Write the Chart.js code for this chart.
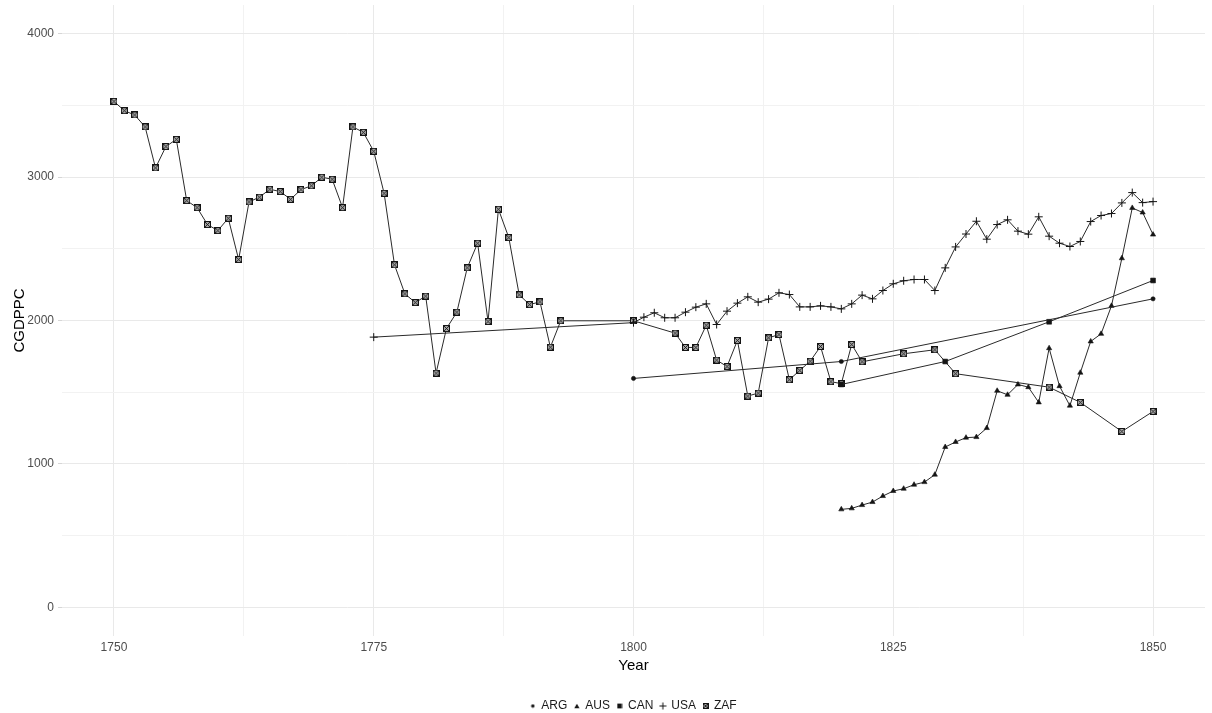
<!DOCTYPE html>
<html>
<head>
<meta charset="utf-8">
<title>CGDPPC by Year</title>
<script src="https://cdn.jsdelivr.net/npm/chart.js@4/dist/chart.umd.min.js"></script>
<style>
  html, body { margin: 0; padding: 0; background: #ffffff; }
  canvas { display: block; }
</style>
</head>
<body>
<canvas id="chart" width="1212" height="713"></canvas>
<script>
// ---- data -------------------------------------------------------------
const seriesNames = ['ARG', 'AUS', 'CAN', 'USA', 'ZAF'];

const argYears  = [1800, 1820, 1850];
const argValues = [1596, 1714, 2151];

const ausYears  = [1820, 1821, 1822, 1823, 1824, 1825, 1826, 1827, 1828, 1829,
                   1830, 1831, 1832, 1833, 1834, 1835, 1836, 1837, 1838, 1839,
                   1840, 1841, 1842, 1843, 1844, 1845, 1846, 1847, 1848, 1849, 1850];
const ausValues = [683, 690, 713, 734, 776, 811, 827, 855, 873, 925,
                   1118, 1153, 1183, 1187, 1250, 1510, 1482, 1554, 1535, 1429,
                   1807, 1542, 1406, 1636, 1854, 1907, 2102, 2434, 2785, 2753, 2599];

const canYears  = [1820, 1830, 1840, 1850];
const canValues = [1554, 1714, 1991, 2279];

const usaYears  = [1775, 1800, 1801, 1802, 1803, 1804, 1805, 1806, 1807, 1808, 1809,
                   1810, 1811, 1812, 1813, 1814, 1815, 1816, 1817, 1818, 1819,
                   1820, 1821, 1822, 1823, 1824, 1825, 1826, 1827, 1828, 1829,
                   1830, 1831, 1832, 1833, 1834, 1835, 1836, 1837, 1838, 1839,
                   1840, 1841, 1842, 1843, 1844, 1845, 1846, 1847, 1848, 1849, 1850];
const usaValues = [1884, 1985, 2023, 2054, 2019, 2019, 2058, 2093, 2116, 1972, 2065,
                   2121, 2165, 2128, 2149, 2193, 2181, 2095, 2095, 2102, 2095,
                   2081, 2116, 2177, 2151, 2209, 2256, 2277, 2286, 2286, 2209,
                   2367, 2513, 2603, 2692, 2567, 2669, 2702, 2623, 2602, 2723,
                   2588, 2539, 2516, 2551, 2690, 2732, 2746, 2820, 2892, 2822, 2829];

const zafYears  = [1750, 1751, 1752, 1753, 1754, 1755, 1756, 1757, 1758, 1759,
                   1760, 1761, 1762, 1763, 1764, 1765, 1766, 1767, 1768, 1769,
                   1770, 1771, 1772, 1773, 1774, 1775, 1776, 1777, 1778, 1779,
                   1780, 1781, 1782, 1783, 1784, 1785, 1786, 1787, 1788, 1789,
                   1790, 1791, 1792, 1793,
                   1800, 1804, 1805, 1806, 1807, 1808, 1809, 1810, 1811, 1812,
                   1813, 1814, 1815, 1816, 1817, 1818, 1819, 1820, 1821, 1822,
                   1826, 1829, 1831, 1840, 1843, 1847, 1850];
const zafValues = [3528, 3463, 3433, 3350, 3064, 3213, 3263, 2836, 2787, 2669,
                   2627, 2713, 2425, 2827, 2860, 2915, 2899, 2845, 2913, 2939,
                   2999, 2985, 2787, 3350, 3312, 3180, 2887, 2388, 2186, 2125,
                   2170, 1633, 1944, 2058, 2367, 2539, 1993, 2776, 2578, 2179,
                   2111, 2130, 1814, 1998,
                   1998, 1912, 1812, 1812, 1967, 1724, 1679, 1861, 1473, 1494,
                   1879, 1902, 1587, 1652, 1716, 1819, 1573, 1560, 1833, 1712,
                   1768, 1796, 1629, 1535, 1429, 1226, 1366];

const xTickLabels = [1750, 1775, 1800, 1825, 1850];
const xGridValues = [1750, 1762.5, 1775, 1787.5, 1800, 1812.5, 1825, 1837.5, 1850];
const yTickLabels = [0, 1000, 2000, 3000, 4000];
const yGridValues = [0, 500, 1000, 1500, 2000, 2500, 3000, 3500, 4000];

// ---- marker images ----------------------------------------------------
const INK = '#141414';

function makeIcon(size, draw) {
  const c = document.createElement('canvas');
  c.width = size; c.height = size;
  const g = c.getContext('2d');
  draw(g, size);
  return c;
}
function boxCross(g, s) {
  g.fillStyle = '#a8a8a8';
  g.fillRect(0.5, 0.5, s - 1, s - 1);
  g.strokeStyle = INK; g.lineWidth = 1;
  g.strokeRect(0.5, 0.5, s - 1, s - 1);
  g.beginPath();
  g.moveTo(1, 1); g.lineTo(s - 1, s - 1);
  g.moveTo(s - 1, 1); g.lineTo(1, s - 1);
  g.lineWidth = 0.9;
  g.stroke();
}
const zafMarker = makeIcon(7, boxCross);

const legendIcons = [
  makeIcon(5, (g, s) => { g.fillStyle = INK; g.beginPath(); g.arc(s / 2, s / 2, 1.7, 0, Math.PI * 2); g.fill(); }),
  makeIcon(6, (g, s) => { g.fillStyle = INK; g.beginPath(); g.moveTo(3, 0.8); g.lineTo(5.6, 5.2); g.lineTo(0.4, 5.2); g.closePath(); g.fill(); }),
  makeIcon(6, (g, s) => { g.fillStyle = INK; g.fillRect(0.6, 0.6, 4.8, 4.8); }),
  makeIcon(8, (g, s) => { g.strokeStyle = INK; g.lineWidth = 1; g.beginPath(); g.moveTo(0.5, 4); g.lineTo(7.5, 4); g.moveTo(4, 0.5); g.lineTo(4, 7.5); g.stroke(); }),
  makeIcon(6, boxCross)
];

function points(xs, ys) { return xs.map((x, i) => ({ x: x, y: ys[i] })); }

function series(label, xs, ys, style, radius, extra) {
  return Object.assign({
    label: label,
    data: points(xs, ys),
    borderColor: '#2a2a2a',
    backgroundColor: INK,
    borderWidth: 1,
    tension: 0,
    pointStyle: style,
    pointRadius: radius,
    pointHoverRadius: radius,
    pointBackgroundColor: INK,
    pointBorderColor: INK,
    pointBorderWidth: 0.6
  }, extra || {});
}

const datasets = [
  series(seriesNames[0], argYears, argValues, 'circle', 2.1),
  series(seriesNames[1], ausYears, ausValues, 'triangle', 3),
  series(seriesNames[2], canYears, canValues, 'rect', 3.4),
  series(seriesNames[3], usaYears, usaValues, 'cross', 4, { pointBorderWidth: 1 }),
  series(seriesNames[4], zafYears, zafValues, zafMarker, 3.5)
];

// ---- chart ------------------------------------------------------------
const FONT = "'Liberation Sans', Arial, sans-serif";
Chart.defaults.font.family = FONT;

// centre the legend under the plotting panel rather than the whole canvas
const legendShift = {
  id: 'legendShift',
  afterLayout(chart) { chart.legend.left += 62; }
};

new Chart(document.getElementById('chart'), {
  type: 'line',
  data: { datasets: datasets },
  plugins: [legendShift],
  options: {
    responsive: false,
    animation: false,
    events: [],
    layout: { padding: { top: 4, right: 7, left: 0, bottom: -9 } },
    plugins: {
      tooltip: { enabled: false },
      legend: {
        position: 'bottom',
        align: 'center',
        labels: {
          usePointStyle: true,
          boxWidth: 5,
          boxHeight: 5,
          padding: 7,
          color: '#1a1a1a',
          font: { size: 12, family: FONT },
          generateLabels: chart => chart.data.datasets.map((ds, i) => ({
            text: ds.label,
            pointStyle: legendIcons[i],
            fillStyle: INK,
            strokeStyle: INK,
            lineWidth: 0,
            hidden: false,
            datasetIndex: i,
            fontColor: '#1a1a1a'
          }))
        }
      }
    },
    scales: {
      x: {
        type: 'linear',
        min: 1745,
        max: 1855,
        afterBuildTicks: s => { s.ticks = xGridValues.map(v => ({ value: v })); },
        afterFit: s => { s.height = 57; s.paddingLeft = 0; s.paddingRight = 0; },
        ticks: {
          autoSkip: false,
          maxRotation: 0,
          padding: 4,
          color: '#4d4d4d',
          font: { size: 12, family: FONT },
          callback: v => xTickLabels.includes(v) ? String(v) : ''
        },
        grid: {
          drawTicks: false,
          color: c => (c.tick && xTickLabels.includes(c.tick.value)) ? '#e9e9e9' : '#f2f2f2',
          lineWidth: 1
        },
        border: { display: false },
        title: {
          display: true,
          text: 'Year',
          color: '#000000',
          font: { size: 15, family: FONT },
          padding: { top: 0, bottom: 18 }
        }
      },
      y: {
        type: 'linear',
        min: -200,
        max: 4200,
        afterBuildTicks: s => { s.ticks = yGridValues.map(v => ({ value: v })); },
        afterFit: s => { s.width = 62; s.paddingTop = 0; s.paddingBottom = 0; },
        ticks: {
          padding: 4,
          color: '#4d4d4d',
          font: { size: 12, family: FONT },
          callback: v => yTickLabels.includes(v) ? String(v) : ''
        },
        grid: {
          drawTicks: true,
          tickLength: 4,
          color: c => (c.tick && yTickLabels.includes(c.tick.value)) ? '#e9e9e9' : '#f2f2f2',
          tickColor: c => (c.tick && yTickLabels.includes(c.tick.value)) ? '#d6d6d6' : 'rgba(0,0,0,0)',
          lineWidth: 1
        },
        border: { display: false },
        title: {
          display: true,
          text: 'CGDPPC',
          color: '#000000',
          font: { size: 15, family: FONT },
          padding: { top: 11, bottom: 0 }
        }
      }
    }
  }
});
</script>
</body>
</html>
